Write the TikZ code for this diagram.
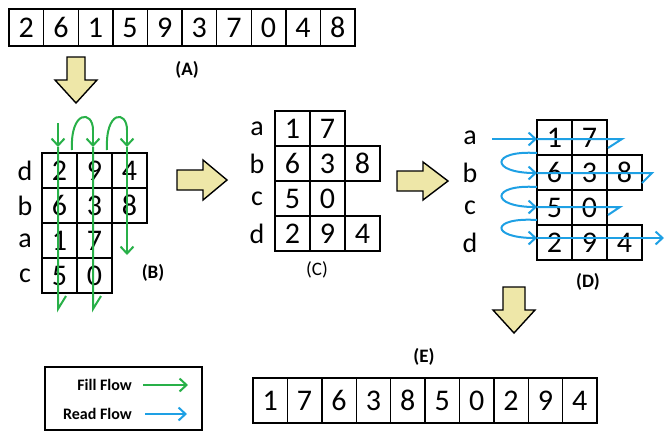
\documentclass[tikz,border=0pt]{standalone}
\usepackage{fontspec}
\setmainfont{Carlito}
\usetikzlibrary{arrows.meta,positioning}
\definecolor{arrowfill}{RGB}{238,231,168}
\definecolor{fillgreen}{RGB}{40,176,72}
\definecolor{readblue}{RGB}{30,160,228}
\tikzset{>={Straight Barb[length=7pt,width=13pt]}}
\tikzset{cell/.style={draw,line width=1.4pt,minimum width=35pt,minimum height=35pt,inner sep=0pt,font=\fontsize{30}{30}\selectfont},
         rowlabel/.style={inner sep=0pt,font=\fontsize{28}{28}\selectfont},
         caption/.style={inner sep=0pt,font=\fontsize{19}{19}\selectfont\bfseries},
         legendtext/.style={inner sep=0pt,font=\fontsize{16}{16}\selectfont\bfseries},
         bigarrow/.style={draw,line width=1.4pt,fill=arrowfill,line join=miter},
         fill flow/.style={draw=fillgreen,line width=2pt},
         read flow/.style={draw=readblue,line width=2pt},
            }

\begin{document}
\begin{tikzpicture}[x=1pt,y=-1pt]

    \useasboundingbox (0,0) rectangle (665,432);

    % (A) input row
    \foreach \d [count=\i] in {2,6,1,5,9,3,7,0,4,8}
        \node[cell,minimum width=34.6pt,minimum height=37pt] (a\i) at ({-8.3+34.6*\i},27.5) {\d};
    \node[caption] (capA) at (187,70) {(A)};

    % (B) filled by columns
    \foreach \lab/\vals [count=\r] in {d/{2,9,4},b/{6,3,8},a/{1,7},c/{5,0}} {
        \node[rowlabel] (bl\r) at (25,{135.5+35*\r}) {\lab};
        \foreach \d [count=\c] in \vals
            \node[cell] (b\r\c) at ({24.5+35*\c},{135.5+35*\r}) {\d};
    }
    \node[caption] (capB) at (153,273) {(B)};

    % (C) sorted by key
    \foreach \lab/\vals [count=\r] in {a/{1,7},b/{6,3,8},c/{5,0},d/{2,9,4}} {
        \node[rowlabel] (cl\r) at (257,{93.5+35*\r}) {\lab};
        \foreach \d [count=\c] in \vals
            \node[cell] (c\r\c) at ({257.5+35*\c},{93.5+35*\r}) {\d};
    }
    \node[caption,font=\fontsize{19}{19}\selectfont] (capC) at (317,270) {(C)};

    % (D) read by rows
    \foreach \lab/\vals [count=\r] in {a/{1,7},b/{6,3,8},c/{5,0},d/{2,9,4}} {
        \node[rowlabel] (dl\r) at (470,{102.5+35*\r}) {\lab};
        \foreach \d [count=\c] in \vals
            \node[cell] (d\r\c) at ({519.5+35*\c},{102.5+35*\r}) {\d};
    }
    \node[caption] (capD) at (588,282) {(D)};

    % (E) output row
    \foreach \d [count=\i] in {1,7,6,3,8,5,0,2,9,4}
        \node[cell,minimum width=34.4pt,minimum height=45pt] (e\i) at ({235.8+34.4*\i},400.5) {\d};
    \node[caption] (capE) at (424,357) {(E)};

    % block arrows
    \draw[bigarrow] (67,57) -- (85,57) -- (85,80) -- (97,80) -- (76,103) -- (55,80) -- (67,80) -- cycle;
    \draw[bigarrow] (177,170) -- (203,170) -- (203,160) -- (227,180) -- (203,200) -- (203,190) -- (177,190) -- cycle;
    \draw[bigarrow] (397,171) -- (423,171) -- (423,162) -- (448,181) -- (423,200) -- (423,191) -- (397,191) -- cycle;
    \draw[bigarrow] (503,287) -- (525,287) -- (525,310) -- (535,310) -- (514,333) -- (493,310) -- (503,310) -- cycle;

    % fill flow
    \coordinate (g1s) at (58,123);  \coordinate (g1m) at (58,147);  \coordinate (g1e) at (58,309);
    \coordinate (g2s) at (93,130);  \coordinate (g2m) at (93,147);  \coordinate (g2e) at (93,309);
    \coordinate (g3s) at (127,130); \coordinate (g3m) at (127,147); \coordinate (g3e) at (127,255);
    \coordinate (k1) at (72,150);   \coordinate (k2) at (107,150);
    \draw[fill flow,->] (g1s) -- (g1m);
    \draw[fill flow] (g1m) -- (g1e) -- ++(8,-13);
    \draw[fill flow] (k1) .. controls (70,110) and (93,110) .. (g2s);
    \draw[fill flow,->] (g2s) -- (g2m);
    \draw[fill flow] (g2m) -- (g2e) -- ++(8,-13);
    \draw[fill flow] (k2) .. controls (105,110) and (127,110) .. (g3s);
    \draw[fill flow,->] (g3s) -- (g3m);
    \draw[fill flow,->] (g3m) -- (g3e);

    % read flow
    \coordinate (r1s) at (492,139); \coordinate (r1m) at (537,139); \coordinate (r1e) at (622,139);
    \coordinate (r2s) at (537,153); \coordinate (r2m) at (537,173); \coordinate (r2e) at (652,173);
    \coordinate (r3s) at (537,187); \coordinate (r3m) at (537,207); \coordinate (r3e) at (620,207);
    \coordinate (r4s) at (537,220); \coordinate (r4m) at (537,238); \coordinate (r4e) at (664,238);
    \draw[read flow,->] (r1s) -- (r1m);
    \draw[read flow] (r1m) -- (r1e) -- ++(-14,9);
    \draw[read flow,->] (r2s) .. controls (490,150) and (490,173) .. (r2m);
    \draw[read flow] (r2m) -- (r2e) -- ++(-10,10);
    \draw[read flow,->] (r3s) .. controls (490,184) and (490,207) .. (r3m);
    \draw[read flow] (r3m) -- (r3e) -- ++(-12,8);
    \draw[read flow,->] (r4s) .. controls (490,217) and (490,238) .. (r4m);
    \draw[read flow,->] (r4m) -- (r4e);

    % legend
    \node[draw,line width=1.4pt,minimum width=157pt,minimum height=63pt,inner sep=0pt] (legend) at (123.5,398.5) {};
    \node[legendtext,anchor=east] (fillLbl) at (132,385) {Fill Flow};
    \node[legendtext,anchor=east] (readLbl) at (132,414) {Read Flow};
    \coordinate (lf1) at (143,385); \coordinate (lf2) at (188,385);
    \coordinate (lr1) at (145,414); \coordinate (lr2) at (187,414);
    \draw[fill flow,->] (lf1) -- (lf2);
    \draw[read flow,->] (lr1) -- (lr2);

\end{tikzpicture}
\end{document}
